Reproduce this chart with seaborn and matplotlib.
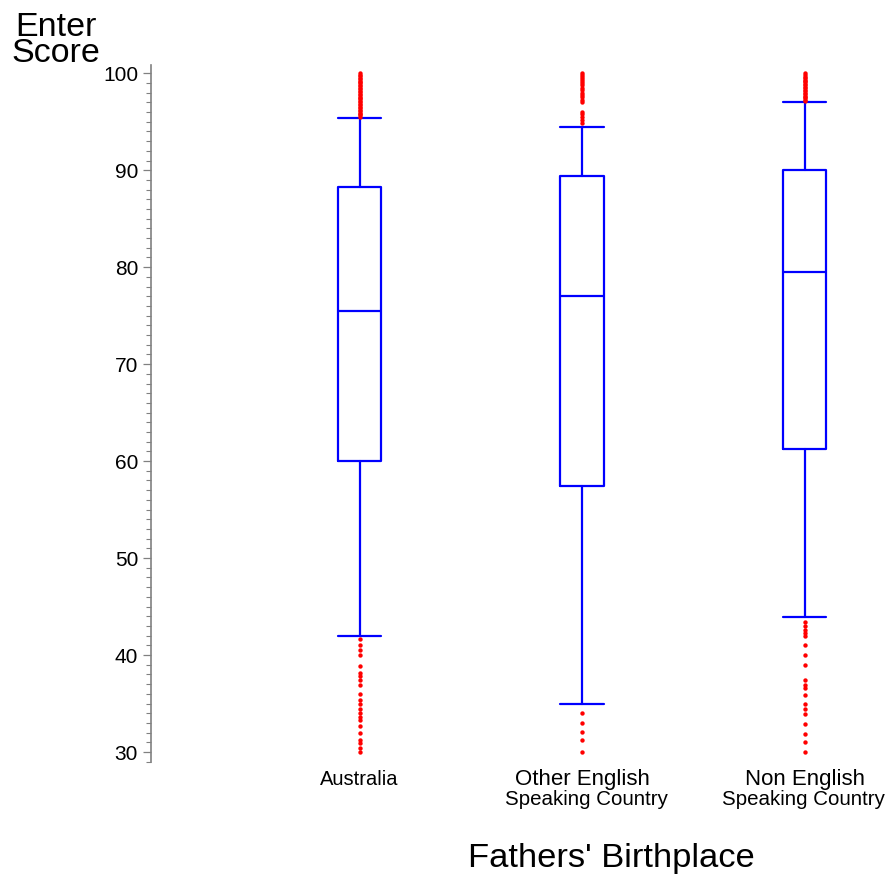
import matplotlib
matplotlib.use("Agg")
import matplotlib.pyplot as plt
from matplotlib.ticker import MultipleLocator
import pandas as pd
import seaborn as sns

# Box summary values per father's birthplace group
groups = ["Australia", "Other English", "Non English"]
group_line2 = ["", "Speaking Country", "Speaking Country"]
whisker_low = [42.0, 35.0, 43.9]
q1 = [60.0, 57.45, 61.3]
median = [75.5, 77.0, 79.5]
q3 = [88.3, 89.4, 90.0]
whisker_high = [95.4, 94.5, 97.0]

# Outlying scores per group
outliers_australia = [
    95.5, 95.65, 95.8, 95.95, 96.1, 96.25, 96.4, 96.55, 96.7, 96.85, 97.0,
    97.15, 97.3, 97.45, 97.6, 97.75, 97.9, 98.05, 98.2, 98.35, 98.5, 98.65,
    98.8, 98.95, 99.1, 99.25, 99.4, 99.55, 99.7, 99.85, 100.0,
    41.7, 41.0, 40.5, 40.0, 38.9, 38.1, 37.8, 37.4, 36.9, 36.0, 35.4, 35.0,
    34.4, 34.0, 33.6, 33.3, 32.7, 32.0, 31.2, 30.9, 30.4, 30.0,
]
outliers_other = [
    100.0, 99.8, 99.6, 99.4, 99.2, 99.0, 98.8, 98.5, 98.3, 98.0, 97.8, 97.5,
    97.2, 97.0, 96.0, 95.8, 95.5, 95.2, 94.9,
    34.0, 33.0, 32.1, 31.2, 30.0,
]
outliers_non = [
    97.1, 97.25, 97.4, 97.55, 97.7, 97.85, 98.0, 98.15, 98.3, 98.45, 98.6,
    98.75, 98.9, 99.05, 99.2, 99.35, 99.5, 99.65, 99.8, 100.0,
    43.4, 43.0, 42.6, 42.3, 42.0, 41.0, 40.0, 39.0, 37.4, 36.9, 36.6, 35.9,
    34.9, 34.4, 33.9, 32.9, 31.9, 31.0, 30.0,
]

sns.set_theme(style="white")
plt.rcParams["font.family"] = ["Liberation Sans", "DejaVu Sans"]

fig = plt.figure(figsize=(8.86, 8.75), dpi=100)
ax = fig.add_axes([151 / 886, 1 - 761.7 / 875, 1 - 151 / 886, (761.7 - 65) / 875])

stats = []
for i, name in enumerate(groups):
    stats.append(dict(label=name, whislo=whisker_low[i], q1=q1[i], med=median[i],
                      q3=q3[i], whishi=whisker_high[i], fliers=[]))

line = dict(color="#0000ff", linewidth=1.6)
ax.bxp(stats, positions=[0, 1, 2], widths=0.195, showfliers=False,
       boxprops=line, medianprops=line, whiskerprops=line,
       capprops=line, capwidths=0.195, manage_ticks=False)

outlier_df = pd.DataFrame({
    "pos": [0] * len(outliers_australia) + [1] * len(outliers_other) + [2] * len(outliers_non),
    "score": outliers_australia + outliers_other + outliers_non,
})
sns.scatterplot(data=outlier_df, x="pos", y="score", ax=ax, color="#ff0000",
                s=10, linewidth=0, marker="o", zorder=3, legend=False)

ax.set_xlim(-0.937, 2.366)
ax.set_ylim(29.0, 100.85)
ax.set_xlabel("")
ax.set_ylabel("")
ax.set_xticks([])

for side in ["top", "right", "bottom"]:
    ax.spines[side].set_visible(False)
ax.spines["left"].set_color("#808080")
ax.spines["left"].set_linewidth(1.2)

ax.set_yticks([30, 40, 50, 60, 70, 80, 90, 100])
ax.yaxis.set_minor_locator(MultipleLocator(1))
ax.tick_params(axis="y", which="major", left=True, length=5.8, width=0.9,
               color="#808080", labelsize=15, labelcolor="black", pad=3.5)
ax.tick_params(axis="y", which="minor", left=True, length=3.6, width=0.8,
               color="#808080")

# Category labels below the plot
first_sizes = [14.5, 16, 16]
line2_dx = [0, 3, -1]
for i, name in enumerate(groups):
    ax.annotate(name, xy=(i, 0), xycoords=("data", "axes fraction"),
                xytext=(0, -16.8), textcoords="offset points",
                ha="center", va="baseline", fontsize=first_sizes[i], color="black")
    if group_line2[i]:
        ax.annotate(group_line2[i], xy=(i, 0), xycoords=("data", "axes fraction"),
                    xytext=(line2_dx[i], -31.5), textcoords="offset points",
                    ha="center", va="baseline", fontsize=14.8, color="black")

fig.text(611 / 886, 1 - 867 / 875, "Fathers' Birthplace", ha="center",
         va="baseline", fontsize=24.8, color="black")
fig.text(56 / 886, 1 - 62 / 875, "Enter\nScore", ha="center", va="baseline",
         multialignment="center", linespacing=0.8, fontsize=24.5, color="black")

fig.savefig("out.png", dpi=100)
